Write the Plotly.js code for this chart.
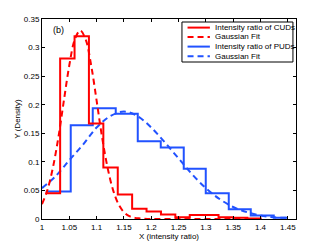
<!DOCTYPE html>
<html><head><meta charset="utf-8">
<script src="https://cdn.plot.ly/plotly-3.0.1.min.js"></script>
<style>html,body{margin:0;padding:0;background:#fff}#chart{width:327px;height:246px}</style>
</head><body><div id="chart"></div><script>
// Histogram of CUDs (bin edges and density per bin)
const cudEdges = [1.0068, 1.0332, 1.0596, 1.0859, 1.1123, 1.1387, 1.1650, 1.1914, 1.2178, 1.2441, 1.2705, 1.2969, 1.3232, 1.3496, 1.3760, 1.4023];
const cudDensity = [0.045, 0.281, 0.320, 0.167, 0.090, 0.043, 0.018, 0.013, 0.008, 0.003, 0.007, 0.007, 0.003, 0.002, 0.001];
// Gaussian fit of CUDs
const cudFitX = [1.00, 1.01, 1.02, 1.03, 1.04, 1.05, 1.06, 1.07, 1.08, 1.09, 1.10, 1.11, 1.12, 1.13, 1.14, 1.15, 1.16, 1.17, 1.18, 1.20, 1.25, 1.30, 1.35, 1.40];
const cudFitY = [0.026, 0.051, 0.090, 0.143, 0.207, 0.269, 0.314, 0.330, 0.314, 0.269, 0.207, 0.143, 0.090, 0.051, 0.026, 0.012, 0.005, 0.002, 0.001, 0.000, 0.000, 0.000, 0.000, 0.000];
// Histogram of PUDs
const pudEdges = [1.0068, 1.0526, 1.0929, 1.1350, 1.1753, 1.2174, 1.2595, 1.2998, 1.3419, 1.3822, 1.4243, 1.4500];
const pudDensity = [0.048, 0.164, 0.194, 0.184, 0.136, 0.125, 0.088, 0.045, 0.017, 0.006, 0.002];
// Gaussian fit of PUDs
const pudFitX = [1.000, 1.025, 1.050, 1.075, 1.100, 1.125, 1.150, 1.175, 1.200, 1.225, 1.250, 1.275, 1.300, 1.325, 1.350, 1.375, 1.400, 1.425, 1.450];
const pudFitY = [0.054, 0.075, 0.103, 0.130, 0.160, 0.180, 0.188, 0.180, 0.160, 0.134, 0.106, 0.078, 0.054, 0.035, 0.021, 0.012, 0.006, 0.003, 0.002];
// Labels
const seriesNames = ["Intensity ratio of CUDs", "Gaussian Fit", "Intensity ratio of PUDs", "Gaussian Fit"];
const xTicks = [1, 1.05, 1.1, 1.15, 1.2, 1.25, 1.3, 1.35, 1.4, 1.45];
const xTickText = ["1", "1.05", "1.1", "1.15", "1.2", "1.25", "1.3", "1.35", "1.4", "1.45"];
const yTicks = [0, 0.05, 0.1, 0.15, 0.2, 0.25, 0.3, 0.35];
const yTickText = ["0", "0.05", "0.1", "0.15", "0.2", "0.25", "0.3", "0.35"];
const panelLabel = "(b)";
const xTitle = "X (intensity ratio)";
const yTitle = "Y (Density)";

const RED = "#ff0000", BLUE = "#2152ff";
const styles = [
  {color: RED, dash: "solid"},
  {color: RED, dash: "6px,4px"},
  {color: BLUE, dash: "solid"},
  {color: BLUE, dash: "6px,4px"}
];
const stairsY = a => a.concat([a[a.length - 1]]);

const traces = [
  {x: pudEdges, y: stairsY(pudDensity), mode: "lines", line: {color: BLUE, width: 2, shape: "hv"}, name: seriesNames[2]},
  {x: pudFitX, y: pudFitY, mode: "lines", line: {color: BLUE, width: 2, dash: styles[3].dash, shape: "spline"}, name: seriesNames[3]},
  {x: cudEdges, y: stairsY(cudDensity), mode: "lines", line: {color: RED, width: 2, shape: "hv"}, name: seriesNames[0]},
  {x: cudFitX, y: cudFitY, mode: "lines", line: {color: RED, width: 2, dash: styles[1].dash, shape: "spline"}, name: seriesNames[1]}
];

const FONT = "Liberation Sans, Arial, Helvetica, sans-serif";
const shapes = [
  {type: "rect", xref: "paper", yref: "paper", x0: 0.551, x1: 0.988, y0: 0.785, y1: 0.985,
   line: {color: "#000", width: 1}, fillcolor: "#fff", layer: "above"}
];
const annotations = [
  {text: panelLabel, xref: "x", yref: "y", x: 1.03, y: 0.330, showarrow: false, font: {family: FONT, size: 9, color: "#000"}}
];
const rowY = [0.957, 0.910, 0.862, 0.814];
seriesNames.forEach((n, i) => {
  shapes.push({type: "line", xref: "paper", yref: "paper", x0: 0.573, x1: 0.661, y0: rowY[i], y1: rowY[i],
    line: {color: styles[i].color, width: 2, dash: styles[i].dash}, layer: "above"});
  annotations.push({text: n, xref: "paper", yref: "paper", x: 0.672, y: rowY[i], xanchor: "left", yanchor: "middle",
    showarrow: false, font: {family: FONT, size: 8, color: "#000"}});
});

const axisCommon = {
  showgrid: false, zeroline: false, showline: true, linecolor: "#000", linewidth: 1,
  mirror: "ticks", ticks: "inside", ticklen: 3, tickwidth: 1, tickcolor: "#000",
  tickfont: {family: FONT, size: 8, color: "#000"}
};
const layout = {
  width: 327, height: 246,
  margin: {l: 42, r: 31, t: 19, b: 27},
  paper_bgcolor: "#fff", plot_bgcolor: "#fff",
  showlegend: false,
  xaxis: Object.assign({}, axisCommon, {
    range: [1, 1.465], tickvals: xTicks, ticktext: xTickText,
    title: {text: xTitle, font: {family: FONT, size: 8, color: "#000"}, standoff: 1}
  }),
  yaxis: Object.assign({}, axisCommon, {
    range: [0, 0.35], tickvals: yTicks, ticktext: yTickText,
    title: {text: yTitle, font: {family: FONT, size: 8, color: "#000"}, standoff: 2}
  }),
  shapes: shapes,
  annotations: annotations
};
Plotly.newPlot("chart", traces, layout, {staticPlot: true, displayModeBar: false});
</script></body></html>
